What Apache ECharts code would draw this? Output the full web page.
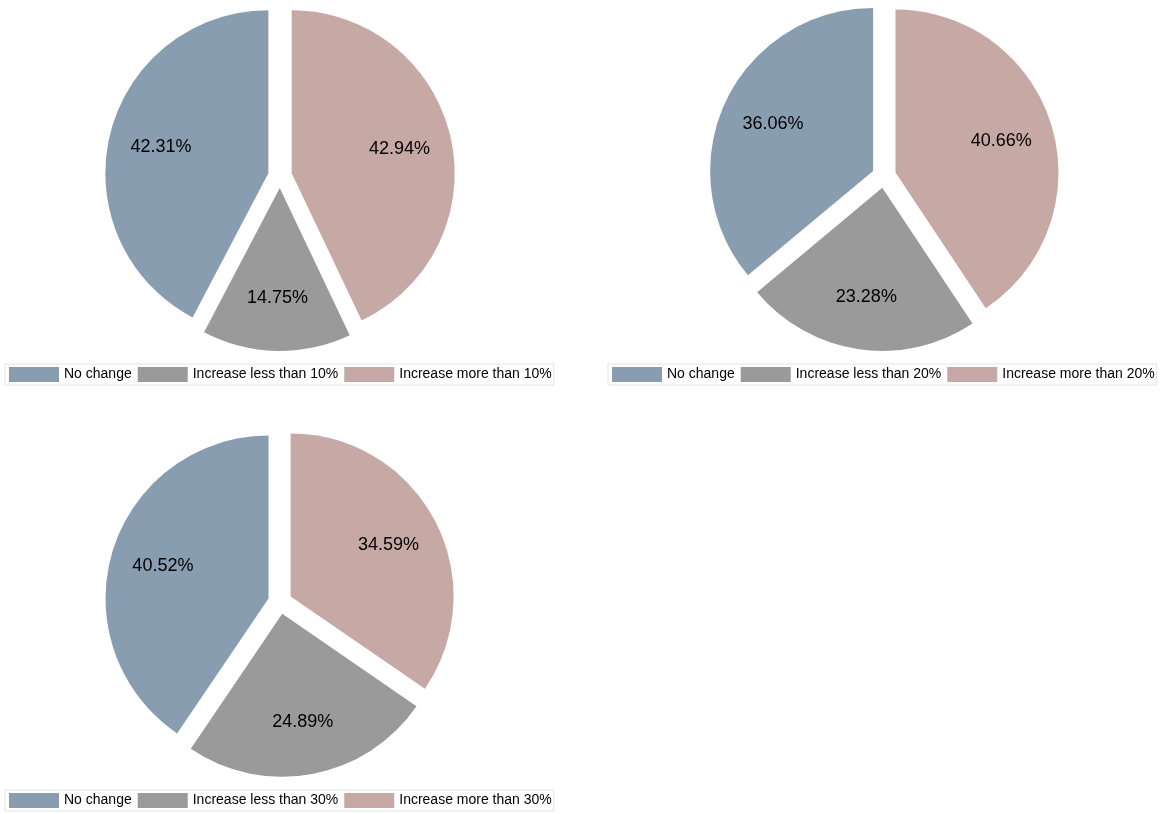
<!DOCTYPE html>
<html><head><meta charset="utf-8">
<script src="https://cdn.jsdelivr.net/npm/echarts@6/dist/echarts.min.js"></script>
<style>html,body{margin:0;background:#fff}#c{width:1174px;height:814px}</style>
</head><body><div id="c"></div>
<script>
const colors = ['#899db1', '#9a9a9a', '#c6a9a4'];
const names1 = ['No change', 'Increase less than 10%', 'Increase more than 10%'];
const names2 = ['No change', 'Increase less than 20%', 'Increase more than 20%'];
const names3 = ['No change', 'Increase less than 30%', 'Increase more than 30%'];
const values1 = [42.31, 14.75, 42.94];
const values2 = [36.06, 23.28, 40.66];
const values3 = [40.52, 24.89, 34.59];

const pies = [
  {names: names1, values: values1, center: [280, 176], legend: {left: 5, top: 364}},
  {names: names2, values: values2, center: [884, 176], legend: {left: 608, top: 364}},
  {names: names3, values: values3, center: [280, 602], legend: {left: 5, top: 790}}
];
const font = '"Liberation Sans", Arial, sans-serif';
const series = [];
pies.forEach((p) => {
  series.push({
    type: 'pie', center: p.center, radius: 163, clockwise: false, startAngle: 90,
    selectedMode: 'multiple', selectedOffset: 12,
    label: {show: false}, labelLine: {show: false},
    emphasis: {disabled: true}, silent: true,
    data: p.names.map((n, j) => ({name: n, value: p.values[j], selected: true, itemStyle: {color: colors[j]}}))
  });
  series.push({
    type: 'pie', center: p.center, radius: [0, 215], clockwise: false, startAngle: 90,
    selectedMode: 'multiple', selectedOffset: 12, silent: true,
    itemStyle: {color: 'rgba(0,0,0,0)'},
    label: {position: 'inner', formatter: d => d.value.toFixed(2) + '%', fontFamily: font, fontSize: 18, color: '#000'},
    labelLine: {show: false}, emphasis: {disabled: true},
    data: p.names.map((n, j) => ({name: '_' + j + n, value: p.values[j], selected: true}))
  });
});
const option = {
  animation: false,
  legend: pies.map((p) => ({
    data: p.names, left: p.legend.left, top: p.legend.top, width: 620,
    orient: 'horizontal', itemWidth: 50, itemHeight: 15, itemGap: 6,
    icon: 'rect', borderColor: '#e3e3e3', borderWidth: 1, padding: [3, 2, 3, 4],
    selectedMode: false,
    textStyle: {fontFamily: font, fontSize: 14, color: '#000'}
  })),
  series
};
echarts.init(document.getElementById('c')).setOption(option);
</script></body></html>
